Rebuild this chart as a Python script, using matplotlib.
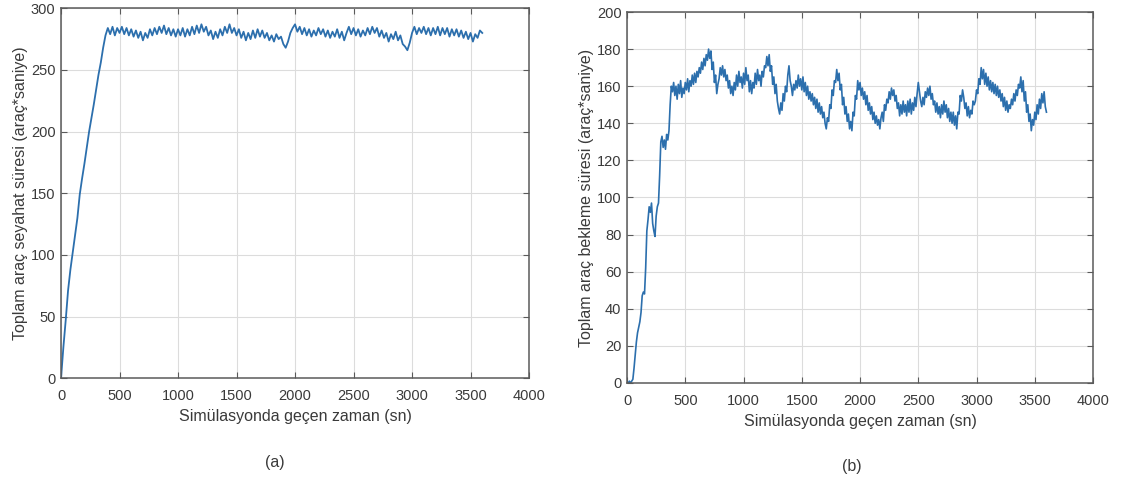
import numpy as np
import matplotlib
matplotlib.use("Agg")
import matplotlib.pyplot as plt

plt.rcParams['font.family'] = ['Liberation Sans', 'DejaVu Sans']

# (a) total vehicle travel time, sampled every 20 s
travel_step = 20
travel_time = [
    0, 25, 47, 71, 88, 102, 116, 130, 149, 162, 174, 187, 200, 211, 222, 234, 246, 256, 268,
    278, 284, 279, 285, 278, 284, 280, 285, 279, 284,
    278, 283, 277, 282, 276, 281, 274, 280, 276, 283,
    278, 284, 279, 285, 280, 286, 279, 284, 278, 283,
    277, 283, 278, 284, 277, 283, 278, 285, 279, 286,
    280, 287, 281, 285, 278, 282, 275, 281, 276, 283,
    278, 285, 280, 287, 280, 284, 278, 283, 276, 281,
    274, 280, 275, 282, 276, 283, 277, 282, 276, 280,
    274, 278, 273, 279, 275, 277, 271, 268, 273, 280,
    284, 287, 281, 285, 279, 284, 278, 283, 277, 282,
    278, 284, 279, 283, 277, 282, 276, 281, 277, 283,
    276, 281, 274, 280, 285, 279, 284, 278, 283, 277,
    282, 278, 284, 279, 285, 280, 284, 277, 282, 276,
    280, 273, 279, 275, 281, 274, 278, 271, 269, 266,
    272, 280, 285, 279, 284, 280, 285, 279, 284, 278,
    284, 279, 285, 278, 284, 279, 284, 277, 283, 278,
    283, 277, 282, 276, 281, 275, 280, 273, 279, 276,
    282, 280,
]

# (b) total vehicle waiting time, sampled every 10 s
waiting_step = 10
waiting_time = [
    0, 0, 1, 0, 1, 2, 8, 15, 22, 27, 30, 33, 38, 47, 49, 48, 62, 82, 88, 95,
    92, 97, 86, 82, 79, 90, 95, 97, 112, 130, 133, 127, 131, 126, 134, 131, 136, 150, 160,
    157, 162, 155, 160, 153, 161, 156, 163, 154, 159,
    156, 162, 158, 164, 157, 163, 160, 166, 161, 167,
    162, 168, 165, 170, 167, 173, 169, 175, 171, 177,
    174, 180, 175, 179, 169, 173, 162, 166, 156, 161,
    164, 170, 166, 171, 165, 169, 163, 166, 159, 163,
    156, 160, 155, 162, 158, 166, 160, 168, 162, 165,
    159, 167, 161, 170, 163, 166, 157, 163, 156, 162,
    159, 167, 161, 169, 163, 166, 160, 168, 165, 171,
    170, 176, 171, 177, 168, 171, 161, 165, 156, 161,
    152, 148, 145, 151, 147, 156, 152, 160, 157, 166,
    171, 163, 160, 155, 161, 158, 163, 159, 166, 160,
    164, 158, 165, 157, 162, 155, 160, 153, 157, 152,
    156, 150, 154, 148, 153, 146, 151, 145, 149, 143,
    146, 140, 137, 143, 141, 150, 148, 158, 155, 163,
    162, 169, 163, 167, 158, 161, 150, 154, 145, 149,
    141, 145, 137, 141, 136, 146, 144, 155, 153, 163,
    158, 162, 155, 159, 153, 157, 150, 155, 147, 151,
    145, 149, 142, 146, 140, 144, 139, 142, 137, 143,
    146, 141, 150, 147, 153, 151, 157, 153, 159, 155,
    158, 152, 155, 148, 151, 144, 150, 145, 152, 146,
    150, 144, 152, 146, 153, 145, 151, 147, 154, 149,
    156, 162, 157, 152, 149, 154, 150, 157, 154, 159,
    155, 160, 153, 156, 150, 152, 146, 151, 145, 149,
    143, 150, 145, 152, 146, 150, 143, 148, 141, 146,
    140, 146, 139, 144, 137, 146, 145, 155, 152, 158,
    154, 148, 151, 144, 149, 143, 147, 145, 152, 150,
    152, 158, 156, 164, 161, 170, 164, 169, 161, 167,
    160, 165, 158, 163, 157, 162, 156, 161, 155, 160,
    154, 158, 152, 156, 149, 154, 147, 152, 146, 150,
    148, 153, 150, 156, 152, 158, 155, 161, 159, 165,
    157, 163, 152, 157, 146, 150, 141, 145, 136, 142,
    139, 146, 142, 150, 145, 153, 148, 156, 151, 157,
    149, 146,
]

x_ticks = [0, 500, 1000, 1500, 2000, 2500, 3000, 3500, 4000]
y_ticks_a = [0, 50, 100, 150, 200, 250, 300]
y_ticks_b = [0, 20, 40, 60, 80, 100, 120, 140, 160, 180, 200]

x_label = "Simülasyonda geçen zaman (sn)"
y_label_a = "Toplam araç seyahat süresi (araç*saniye)"
y_label_b = "Toplam araç bekleme süresi (araç*saniye)"

line_color = "#2c6fad"
frame_color = "#5a5a5a"
text_color = "#3a3a3a"

fig = plt.figure(figsize=(11.3, 4.84), dpi=100)
ax_a = fig.add_axes([0.0540, 0.2184, 0.4142, 0.7645])
ax_b = fig.add_axes([0.5549, 0.2087, 0.4124, 0.7665])


def style_axes(ax, yticks, ylabel):
    ax.set_xlim(0, 4000)
    ax.set_ylim(yticks[0], yticks[-1])
    ax.set_xticks(x_ticks)
    ax.set_yticks(yticks)
    ax.grid(True, color="#dcdcdc", linewidth=0.8)
    ax.set_axisbelow(True)
    for sp in ax.spines.values():
        sp.set_color(frame_color)
        sp.set_linewidth(1.1)
    ax.tick_params(direction="in", length=4, width=0.8, color=frame_color,
                   labelsize=10.5, labelcolor=text_color, top=True, right=True)
    ax.tick_params(axis="x", pad=8)
    ax.tick_params(axis="y", pad=4)
    ax.set_xlabel(x_label, fontsize=11.5, color=text_color, labelpad=4)
    ax.set_ylabel(ylabel, fontsize=11.5, color=text_color, labelpad=2)


t_a = np.arange(len(travel_time)) * travel_step
t_b = np.arange(len(waiting_time)) * waiting_step

ax_a.plot(t_a, travel_time, color=line_color, linewidth=1.3)
ax_b.plot(t_b, waiting_time, color=line_color, linewidth=1.2)

style_axes(ax_a, y_ticks_a, y_label_a)
style_axes(ax_b, y_ticks_b, y_label_b)

fig.text(275 / 1130, 1 - 463 / 484, "(a)", ha="center", va="center",
         fontsize=11.5, color=text_color)
fig.text(852 / 1130, 1 - 466 / 484, "(b)", ha="center", va="center",
         fontsize=11.5, color=text_color)

fig.savefig("out.png", dpi=100)
